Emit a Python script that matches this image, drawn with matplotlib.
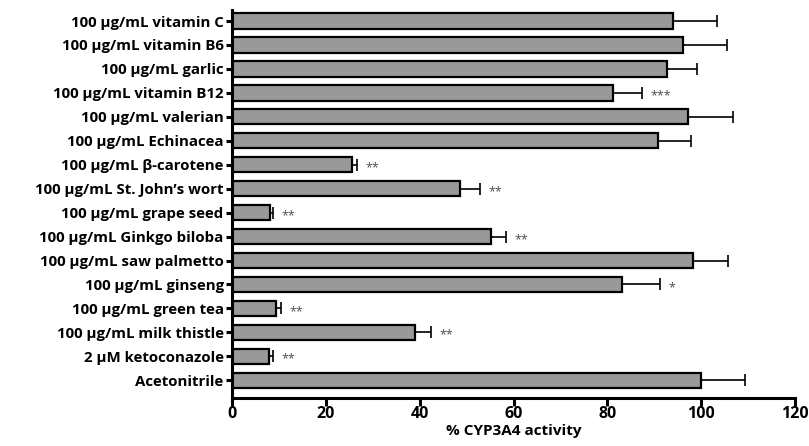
import numpy as np
import matplotlib.pyplot as plt

plt.rcParams['font.family'] = ['Open Sans', 'DejaVu Sans']
plt.rcParams['font.weight'] = 'bold'

# treatments, listed top to bottom
treatments = ['100 µg/mL vitamin C', '100 µg/mL vitamin B6', '100 µg/mL garlic',
              '100 µg/mL vitamin B12', '100 µg/mL valerian', '100 µg/mL Echinacea',
              '100 µg/mL β-carotene', '100 µg/mL St. John’s wort',
              '100 µg/mL grape seed', '100 µg/mL Ginkgo biloba',
              '100 µg/mL saw palmetto', '100 µg/mL ginseng', '100 µg/mL green tea',
              '100 µg/mL milk thistle', '2 µM ketoconazole', 'Acetonitrile']
activity = [93.9, 96.2, 92.8, 81.1, 97.1, 90.7, 25.5, 48.6,
            8.1, 55.1, 98.2, 83.2, 9.4, 39.0, 7.9, 100.0]
sem = [9.5, 9.2, 6.4, 6.2, 9.6, 7.1, 1.2, 4.3,
       0.7, 3.2, 7.5, 8.0, 1.0, 3.5, 0.8, 9.3]
signif = ['', '', '', '***', '', '', '**', '**',
          '**', '**', '', '*', '**', '**', '**', '']


def main():
    fig = plt.figure(figsize=(8.09, 4.46), dpi=100)
    ax = fig.add_axes([0.2868, 0.1076, 0.6959, 0.870])

    y = np.arange(len(treatments))
    ax.barh(y, activity, height=0.64, color='#999999', edgecolor='black', lw=1.6)
    ax.errorbar(activity, y, xerr=[np.zeros(len(sem)), sem], fmt='none',
                ecolor='black', elinewidth=1.2, capsize=4, capthick=1.2)

    # significance stars right of the error caps
    for yi, val, err, s in zip(y, activity, sem, signif):
        if s:
            ax.text(val + err + 1.8, yi + 0.12, s, ha='left', va='center',
                    fontsize=9, color='#4d4d4d', fontweight='normal')

    ax.set_yticks(y)
    ax.set_yticklabels(treatments)
    ax.set_ylim(15.74, -0.46)
    ax.set_xlim(0, 120)
    ax.set_xticks(np.arange(0, 121, 20))

    for side in ['top', 'right']:
        ax.spines[side].set_visible(False)
    for side in ['left', 'bottom']:
        ax.spines[side].set_linewidth(2.2)

    ax.tick_params(axis='y', length=4, width=2.2, labelsize=10.8, pad=2)
    ax.tick_params(axis='x', length=6, width=2.2, labelsize=11.5, pad=0)
    for lab in ax.get_xticklabels() + ax.get_yticklabels():
        lab.set_fontweight('bold')

    ax.set_xlabel('% CYP3A4 activity', fontsize=11, fontweight='bold', labelpad=1)

    fig.savefig('out.png', dpi=100)


if __name__ == "__main__":
    main()
